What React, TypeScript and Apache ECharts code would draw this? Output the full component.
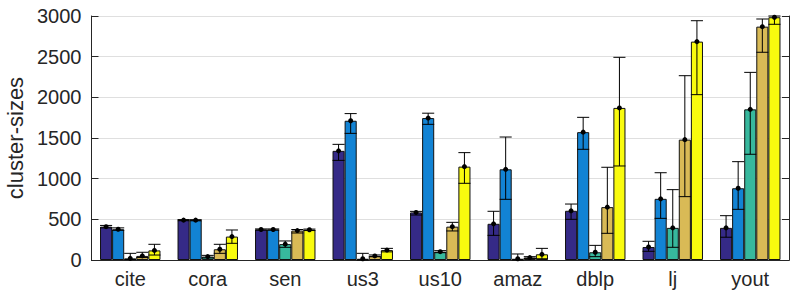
import React, { useEffect, useRef } from "react";
import * as echarts from "echarts";

const categories = ["cite", "cora", "sen", "us3", "us10", "amaz", "dblp", "lj", "yout"];

const s1Mean = [410, 490, 375, 1342, 585, 445, 605, 160, 395];
const s1Lo = [395, 484, 368, 1225, 553, 303, 500, 107, 280];
const s1Hi = [425, 497, 382, 1422, 598, 599, 688, 230, 545];

const s2Mean = [378, 490, 375, 1712, 1745, 1115, 1572, 752, 882];
const s2Lo = [365, 483, 368, 1557, 1668, 746, 1361, 512, 623];
const s2Hi = [395, 496, 382, 1800, 1805, 1512, 1754, 1073, 1209];

const s3Mean = [20, 42, 195, 15, 102, 15, 95, 395, 1852];
const s3Lo = [5, 25, 156, 0, 90, 0, 41, 156, 1300];
const s3Hi = [82, 57, 234, 82, 115, 74, 180, 865, 2307];

const s4Mean = [50, 132, 362, 50, 410, 30, 650, 1480, 2869];
const s4Lo = [30, 82, 332, 40, 357, 20, 328, 779, 2554];
const s4Hi = [95, 193, 375, 62, 463, 41, 1140, 2266, 2963];

const s5Mean = [118, 288, 372, 122, 1148, 70, 1870, 2685, 2985];
const s5Lo = [61, 205, 362, 100, 943, 15, 1156, 2033, 2898];
const s5Hi = [193, 369, 380, 143, 1320, 143, 2492, 2942, 3000];

const yTicks = [0, 500, 1000, 1500, 2000, 2500, 3000];

const colors = ["#352A87", "#1283D4", "#37B89D", "#D9BA56", "#F9FB0E"];

const seriesMeans = [s1Mean, s2Mean, s3Mean, s4Mean, s5Mean];
const seriesLo = [s1Lo, s2Lo, s3Lo, s4Lo, s5Lo];
const seriesHi = [s1Hi, s2Hi, s3Hi, s4Hi, s5Hi];

const CAT_GAP = 0.22;
const N = 5;
const FONT = "'Liberation Sans', Arial, Helvetica, sans-serif";
const TXT = "#262626";

export default function App() {
  const ref = useRef<HTMLDivElement>(null);
  useEffect(() => {
    document.body.style.margin = "0";
    const chart = echarts.init(ref.current!, null, { renderer: "svg" });
    const barSeries = seriesMeans.map((m, k) => ({
      type: "bar",
      name: "s" + (k + 1),
      data: m,
      barGap: "0%",
      barCategoryGap: CAT_GAP * 100 + "%",
      itemStyle: { color: colors[k], borderColor: "#111", borderWidth: 1 },
      z: 2,
    }));
    const errSeries = seriesMeans.map((m, k) => ({
      type: "custom",
      name: "err" + (k + 1),
      z: 5,
      clip: false,
      encode: { x: 0, y: 1 },
      data: categories.map((c, i) => [i, m[i], seriesLo[k][i], seriesHi[k][i]]),
      renderItem: (params: any, api: any) => {
        const cat = api.value(0);
        const mean = api.value(1);
        const lo = api.value(2);
        const hi = api.value(3);
        const c = api.coord([cat, mean]);
        const band = api.size([1, 0])[0];
        const bw = (band * (1 - CAT_GAP)) / N;
        const x = c[0] + (k - (N - 1) / 2) * bw;
        const yHi = api.coord([cat, hi])[1];
        const yLo = api.coord([cat, lo])[1];
        const half = bw / 2;
        const st = { stroke: "#000", lineWidth: 1 };
        return {
          type: "group",
          children: [
            { type: "line", shape: { x1: x, y1: yHi, x2: x, y2: yLo }, style: st },
            { type: "line", shape: { x1: x - half, y1: yHi, x2: x + half, y2: yHi }, style: st },
            { type: "line", shape: { x1: x - half, y1: yLo, x2: x + half, y2: yLo }, style: st },
            { type: "circle", shape: { cx: x, cy: c[1], r: 2.5 }, style: { fill: "#000" } },
          ],
        };
      },
    }));
    chart.setOption({
      animation: false,
      textStyle: { fontFamily: FONT },
      grid: { left: 91.5, right: 9, top: 16, bottom: 34, containLabel: false, outerBoundsMode: "none" },
      xAxis: [
        {
          type: "category",
          data: categories,
          position: "bottom",
          axisLine: { lineStyle: { color: TXT, width: 1 } },
          axisTick: { inside: true, length: 7, alignWithLabel: true, lineStyle: { color: TXT } },
          axisLabel: { color: TXT, fontSize: 20, margin: 9, fontFamily: FONT },
          splitLine: { show: false },
        },
        {
          type: "category",
          data: categories,
          position: "top",
          axisLine: { lineStyle: { color: TXT, width: 1 } },
          axisTick: { inside: true, length: 7, alignWithLabel: true, lineStyle: { color: TXT } },
          axisLabel: { show: false },
          splitLine: { show: false },
        },
      ],
      yAxis: [
        {
          type: "value",
          min: yTicks[0],
          max: yTicks[yTicks.length - 1],
          interval: 500,
          position: "left",
          name: "cluster-sizes",
          nameLocation: "middle",
          nameGap: 62,
          nameTextStyle: { color: TXT, fontSize: 22, fontFamily: FONT },
          axisLine: { show: true, lineStyle: { color: TXT, width: 1 } },
          axisTick: { show: true, inside: true, length: 7, lineStyle: { color: TXT } },
          axisLabel: {
            color: TXT,
            fontSize: 20,
            margin: 10,
            fontFamily: FONT,
            formatter: (v: number) => String(v),
          },
          splitLine: { show: true, lineStyle: { color: "#DFDFDF", width: 1 } },
        },
        {
          type: "value",
          min: yTicks[0],
          max: yTicks[yTicks.length - 1],
          interval: 500,
          position: "right",
          axisLine: { show: true, lineStyle: { color: TXT, width: 1 } },
          axisTick: { show: true, inside: true, length: 7, lineStyle: { color: TXT } },
          axisLabel: { show: false },
          splitLine: { show: false },
        },
      ],
      series: [...barSeries, ...errSeries],
    });
    return () => chart.dispose();
  }, []);
  return (
    <div
      ref={ref}
      style={{ position: "absolute", left: 0, top: 0, width: 798, height: 294, background: "#fff" }}
    />
  );
}
